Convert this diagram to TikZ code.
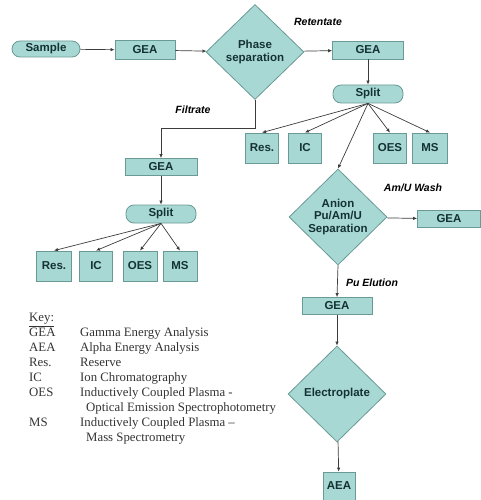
\documentclass[tikz,border=0pt]{standalone}
\usepackage{fontspec}
\setmainfont{Liberation Serif}
\setsansfont{Liberation Sans}
\usetikzlibrary{arrows.meta,shapes.geometric}
\definecolor{boxfill}{HTML}{A8D8D4}
\definecolor{boxline}{HTML}{6A9A96}
\definecolor{boxtext}{HTML}{143232}
\definecolor{flowline}{HTML}{3C3C3C}

\begin{document}
\begin{tikzpicture}[x=1pt, y=-1pt, font=\sffamily\bfseries\fontsize{11.5}{12.5}\selectfont, >={Latex[length=4pt,width=3.5pt]},
	stage/.style={draw=boxline, fill=boxfill, text=boxtext, line width=0.8pt, inner sep=1pt, minimum height=18pt, minimum width=70pt},
	cell/.style={stage, minimum width=33pt, minimum height=30pt},
	pill/.style={stage, rounded corners=8pt},
	decide/.style={diamond, draw=boxline, fill=boxfill, text=boxtext, line width=0.8pt, inner sep=0pt, minimum width=98pt, minimum height=96pt, align=center},
	tag/.style={font=\sffamily\bfseries\itshape\fontsize{10.5}{11}\selectfont, text=black},
	flow/.style={->, draw=flowline, line width=0.7pt}]
	\useasboundingbox (0,0) rectangle (481,500);
	\node[pill, minimum width=68pt, minimum height=16pt] (sample) at (46,49) {Sample};
	\node[stage, minimum width=60pt, minimum height=19pt] (geaA) at (145,50) {GEA};
	\node[decide, minimum height=95pt] (phase) at (255,52) {Phase\\separation};
	\node[stage, minimum width=71pt] (geaB) at (368,50) {GEA};
	\node[pill] (splitA) at (368,94) {Split};
	\node[cell] (resA) at (262,148) {Res.};
	\node[cell] (icA) at (305,148) {IC};
	\node[cell] (oesA) at (390,148) {OES};
	\node[cell, minimum width=35pt] (msA) at (430,148) {MS};
	\node[decide] (anion) at (338,217) {Anion\\Pu/Am/U\\Separation};
	\node[stage, minimum width=63pt, minimum height=17pt] (geaC) at (449,219) {GEA};
	\node[stage, minimum height=17pt] (geaD) at (337,306) {GEA};
	\node[decide] (plate) at (337,394) {Electroplate};
	\node[cell, minimum width=32pt, minimum height=28pt] (aea) at (339,486) {AEA};
	\node[stage, minimum width=72pt, minimum height=17pt] (geaE) at (161,167) {GEA};
	\node[pill] (splitB) at (161,214) {Split};
	\node[cell, minimum width=35pt] (resB) at (54,266) {Res.};
	\node[cell] (icB) at (96,266) {IC};
	\node[cell, minimum width=34pt] (oesB) at (140,266) {OES};
	\node[cell, minimum width=34pt] (msB) at (180,266) {MS};
	\node[tag] (retentate) at (318,22) {Retentate};
	\node[tag] (filtrate) at (193,110) {Filtrate};
	\node[tag] (wash) at (413,188) {Am/U Wash};
	\node[tag] (elution) at (372,283) {Pu Elution};
	\draw[flow] (sample) -- (geaA);
	\draw[flow] (geaA) -- (phase);
	\draw[flow] (phase) -- (geaB);
	\draw[flow] (geaB) -- (splitA);
	\draw[flow] (phase.south) -- ++(0,28) -| (geaE.north);
	\draw[flow] (geaE) -- (splitB);
	\foreach \t in {resA,icA,anion,oesA,msA}
	  \draw[flow] (splitA.south) -- (\t.north);
	\foreach \t in {resB,icB,oesB,msB}
	  \draw[flow] (splitB.south) -- (\t.north);
	\draw[flow] (anion) -- (geaC);
	\draw[flow] (anion.south) -- (geaD.north);
	\draw[flow] (geaD) -- (plate);
	\draw[flow] (plate) -- (aea);
	\node[anchor=north west, inner sep=0pt, text=black!80, font=\rmfamily\fontsize{12.8}{14.9}\selectfont] (key) at (29,311)
	  {\begin{tabular}{@{}p{51pt}@{}l@{}}
	    \underline{Key:} & \\
	    GEA & Gamma Energy Analysis\\
	    AEA & Alpha Energy Analysis\\
	    Res. & Reserve\\
	    IC & Ion Chromatography\\
	    OES & Inductively Coupled Plasma -\\
	        & \hspace{6pt}Optical Emission Spectrophotometry\\
	    MS & Inductively Coupled Plasma --\\
	       & \hspace{6pt}Mass Spectrometry
	  \end{tabular}};
\end{tikzpicture}
\end{document}
